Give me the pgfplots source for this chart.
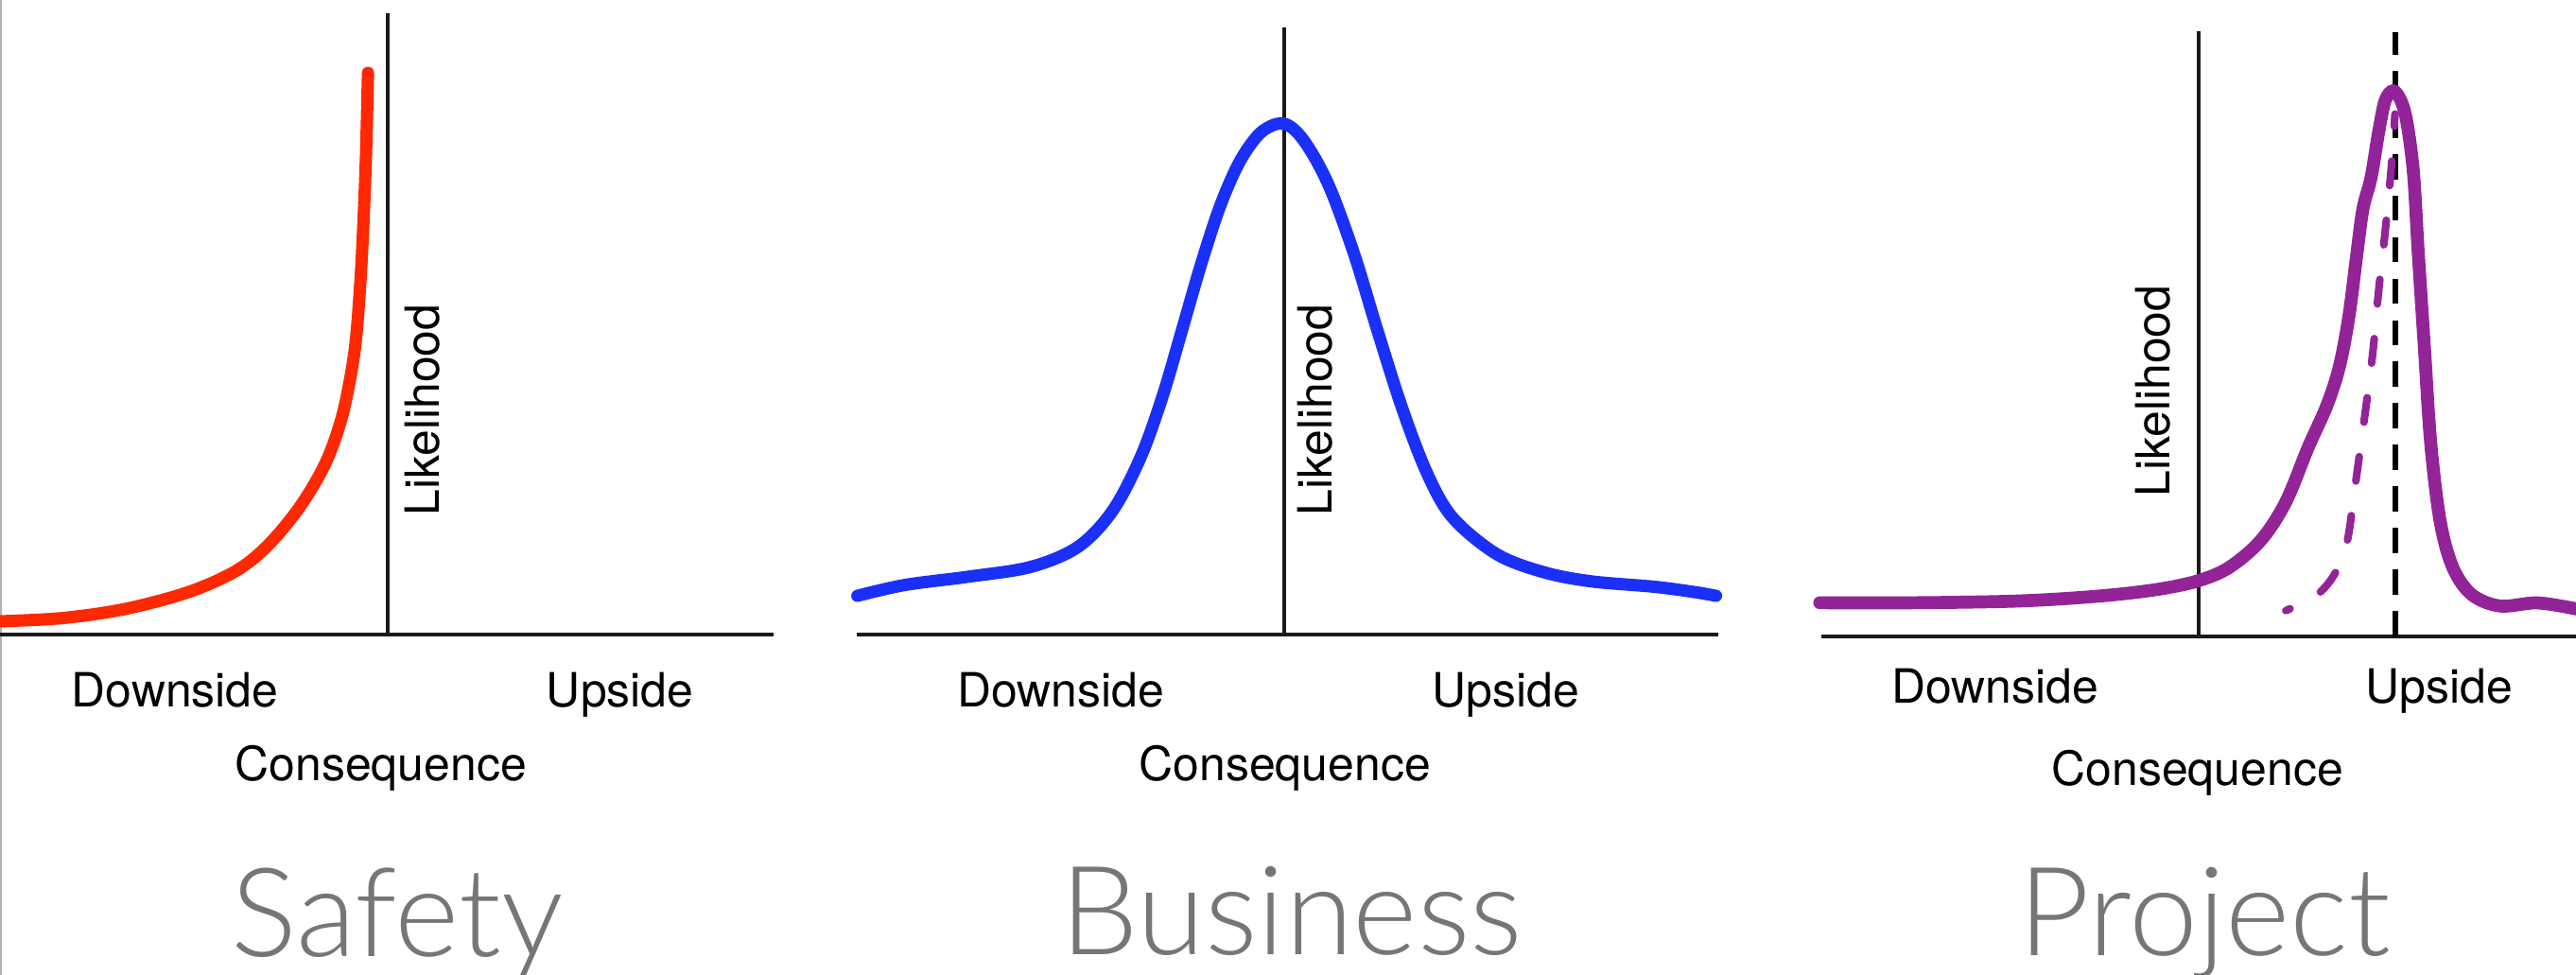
\documentclass[border=0pt]{standalone}
\usepackage{pgfplots}
\pgfplotsset{compat=1.18}
\usepackage{fontspec}
\setmainfont{TeX Gyre Heros}
\newfontfamily\lightfont{Lato Light}
\definecolor{safred}{RGB}{255,40,0}
\definecolor{busblue}{RGB}{26,48,248}
\definecolor{projpurple}{RGB}{146,36,152}
\definecolor{titlegray}{RGB}{118,118,118}
\pgfplotsset{panel/.style={
  x=0.017372cm, y=0.017372cm,
  axis lines=middle,
  axis line style={black!90, line width=1.1pt, -},
  xtick=\empty, ytick=\empty,
  clip=false,
  anchor=south west,
  ymin=0,
}}
\newcommand{\lab}{\fontsize{14.2}{17}\selectfont}
\newcommand{\ttl}{\lightfont\fontsize{37.2}{40}\selectfont}
\begin{document}
\begin{tikzpicture}
\path[use as bounding box] (0,0) rectangle (27.24,10.31);
\draw[gray!60, line width=0.6pt] (0.01,0) -- (0.01,10.31);
% Safety
\begin{axis}[panel, at={(0cm,3.596cm)}, xmin=-236, xmax=235, ymax=378.3]
\addplot[safred, line width=3.7pt, line cap=round, smooth, tension=0.55] coordinates {
(-236,8.3) (-197.6,10.3) (-159.3,15.9) (-120.9,26.2) (-92.1,39.1) (-72.9,54.5)
(-53.7,77.6) (-38.4,103.3) (-28.8,129) (-23,154.7) (-19.2,180.4) (-16.3,219)
(-14.4,257.5) (-13,296) (-11.9,342.3)};
\node[font=\lab, anchor=base] at (axis cs:-129.4,-43.6) {Downside};
\node[font=\lab, anchor=base] at (axis cs:141.6,-43.6) {Upside};
\node[font=\lab, anchor=base] at (axis cs:-4,-89) {Consequence};
\node[font=\lab, rotate=90] at (axis cs:21,137) {Likelihood};
\node[font=\ttl, text=titlegray, anchor=base] at (axis cs:6,-195.8) {Safety};
\end{axis}
% Business
\begin{axis}[panel, at={(9.056cm,3.596cm)}, xmin=-260.6, xmax=264.3, ymax=370]
\addplot[busblue, line width=3.7pt, line cap=round, smooth, tension=0.55] coordinates {
(-260,23.8) (-231.2,30.4) (-192.8,35.4) (-154.5,41.4) (-125.7,53.6) (-104.6,75.6)
(-87.3,108.7) (-73.9,146.1) (-62.3,185.7) (-50.8,225.4) (-39.3,260.6) (-27.8,287.1)
(-16.3,304) (-6.5,310.6) (1.5,310.8) (10,303.5) (20,288) (29.8,267.2) (43.2,229.8)
(56.6,185.7) (72,137.3) (87.3,97.6) (102.7,71.2) (129.5,49.1) (158.3,38.1)
(187.1,32.6) (225.5,29.3) (250.4,26) (262.9,23.8)};
\node[font=\lab, anchor=base] at (axis cs:-136.2,-43.6) {Downside};
\node[font=\lab, anchor=base] at (axis cs:134.8,-43.6) {Upside};
\node[font=\lab, anchor=base] at (axis cs:0.4,-89) {Consequence};
\node[font=\lab, rotate=90] at (axis cs:19,137) {Likelihood};
\node[font=\ttl, text=titlegray, anchor=base] at (axis cs:4.4,-195) {Business};
\end{axis}
% Project
\begin{axis}[panel, at={(19.264cm,3.582cm)}, xmin=-229.3, xmax=234, ymax=368.6]
\addplot[black, line width=1.7pt, dash pattern=on 7.6pt off 4.9pt] coordinates {(120.3,0) (120.3,367.6)};
\addplot[projpurple, line width=2.3pt, line cap=round, dash pattern=on 7.4pt off 10.5pt, dash phase=6pt, smooth, tension=0.55] coordinates {
(53.3,15.6) (72.5,25.4) (84,39.5) (90.8,58.3) (95.5,91.2) (101.3,133.5) (106.1,171.1)
(109.9,211) (113.8,246.3) (117.6,286.2) (119.8,318)};
\addplot[projpurple, line width=3.9pt, line cap=round, smooth, tension=0.55] coordinates {
(-230.5,20.4) (-171.9,20.4) (-108.4,21.5) (-60,24.5) (-25,28.5) (0,33.8)
(18.8,41.9) (38,58.3) (53.3,81.8) (66.8,114.7) (78.3,140.5) (85.9,164.1) (91.7,194.6)
(96.5,232.2) (100.3,260.4) (105.2,279.2) (109.9,307.4) (113.8,326.2) (118.6,332.1)
(123.4,326.2) (127.2,312.1) (131.1,281.5) (133.9,234.5) (137.7,175.8) (141.6,117.1)
(147.3,70.1) (155,41.9) (166.5,25.4) (183.8,18.4) (206.8,20.3) (232,16.3)};
\node[font=\lab, anchor=base] at (axis cs:-123.7,-40.9) {Downside};
\node[font=\lab, anchor=base] at (axis cs:146.6,-40.9) {Upside};
\node[font=\lab, anchor=base] at (axis cs:-0.5,-90.9) {Consequence};
\node[font=\lab, rotate=90] at (axis cs:-27.6,149.4) {Likelihood};
\node[font=\ttl, text=titlegray, anchor=base] at (axis cs:3.8,-194.2) {Project};
\end{axis}
\end{tikzpicture}
\end{document}
